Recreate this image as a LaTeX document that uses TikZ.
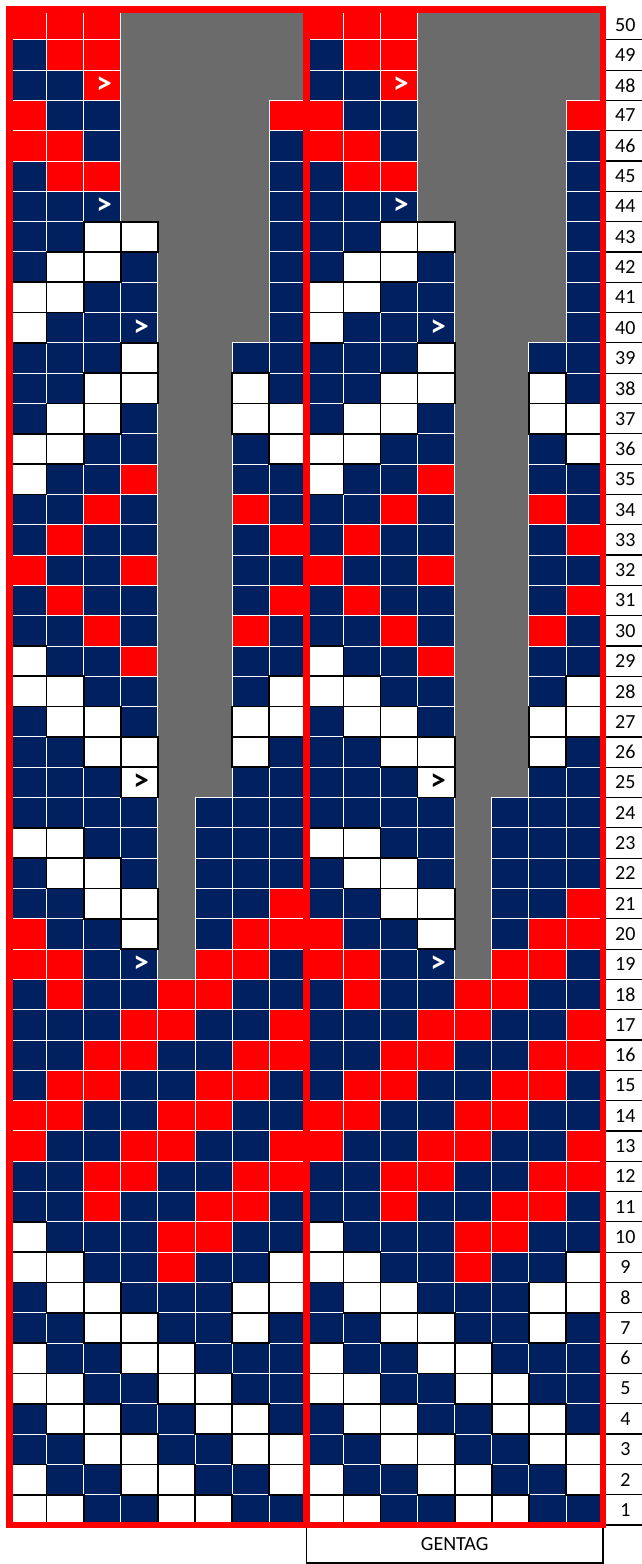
\documentclass[tikz,border=0pt]{standalone}
\usepackage{fontspec}
\setmainfont{Carlito}
\definecolor{cR}{HTML}{FF0000}
\definecolor{cN}{HTML}{002060}
\definecolor{cW}{HTML}{FFFFFF}
\definecolor{nostitch}{HTML}{6B6B6B}

\begin{document}
\begin{tikzpicture}[x=37.1pt, y=30.31pt, line join=miter,
    cellbox/.style={draw=white, line width=1pt},
    whitebox/.style={draw=black, line width=1.7pt},
    slipsym/.style={font=\fontsize{31}{31}\selectfont\bfseries},
    rownum/.style={font=\fontsize{20}{24}\selectfont}]
        \useasboundingbox (-9.5pt,-39pt) rectangle (631.5pt,1525pt);
        \def\chart{50/{R,R,R,G,G,G,G,G}, 49/{N,R,R,G,G,G,G,G}, 48/{N,N,R,G,G,G,G,G},
          47/{R,N,N,G,G,G,G,R}, 46/{R,R,N,G,G,G,G,N}, 45/{N,R,R,G,G,G,G,N},
          44/{N,N,N,G,G,G,G,N}, 43/{N,N,W,W,G,G,G,N}, 42/{N,W,W,N,G,G,G,N},
          41/{W,W,N,N,G,G,G,N}, 40/{W,N,N,N,G,G,G,N}, 39/{N,N,N,W,G,G,N,N},
          38/{N,N,W,W,G,G,W,N}, 37/{N,W,W,N,G,G,W,W}, 36/{W,W,N,N,G,G,N,W},
          35/{W,N,N,R,G,G,N,N}, 34/{N,N,R,N,G,G,R,N}, 33/{N,R,N,N,G,G,N,R},
          32/{R,N,N,R,G,G,N,N}, 31/{N,R,N,N,G,G,N,R}, 30/{N,N,R,N,G,G,R,N},
          29/{W,N,N,R,G,G,N,N}, 28/{W,W,N,N,G,G,N,W}, 27/{N,W,W,N,G,G,W,W},
          26/{N,N,W,W,G,G,W,N}, 25/{N,N,N,W,G,G,N,N}, 24/{N,N,N,N,G,N,N,N},
          23/{W,W,N,N,G,N,N,N}, 22/{N,W,W,N,G,N,N,N}, 21/{N,N,W,W,G,N,N,R},
          20/{R,N,N,W,G,N,R,R}, 19/{R,R,N,N,G,R,R,N}, 18/{N,R,N,N,R,R,N,N},
          17/{N,N,N,R,R,N,N,R}, 16/{N,N,R,R,N,N,R,R}, 15/{N,R,R,N,N,R,R,N},
          14/{R,R,N,N,R,R,N,N}, 13/{R,N,N,R,R,N,N,R}, 12/{N,N,R,R,N,N,R,R},
          11/{N,N,R,N,N,R,R,N}, 10/{W,N,N,N,R,R,N,N}, 9/{W,W,N,N,R,N,N,W},
          8/{N,W,W,N,N,N,W,W}, 7/{N,N,W,W,N,N,W,N}, 6/{W,N,N,W,W,N,N,N},
          5/{W,W,N,N,W,W,N,N}, 4/{N,W,W,N,N,W,W,N}, 3/{N,N,W,W,N,N,W,W},
          2/{W,N,N,W,W,N,N,W}, 1/{W,W,N,N,W,W,N,N}}
        % grey: no stitch
        \foreach \k in {0,8}
          \fill[nostitch] (\k+4,18) -- (\k+5,18) -- (\k+5,24) -- (\k+6,24) -- (\k+6,39) -- (\k+7,39)
            -- (\k+7,47) -- (\k+8,47) -- (\k+8,50) -- (\k+3,50) -- (\k+3,43) -- (\k+4,43) -- cycle;
        % coloured cells
        \foreach \k in {0,8} {
          \foreach \r/\cells in \chart {
            \foreach \c [count=\i] in \cells {
              \if\c G\else
                \filldraw[cellbox, fill=c\c] (\i-1+\k,\r-1) rectangle ++(1,1);
              \fi
            }
          }
        }
        % black edges on the white cells
        \foreach \k in {0,8} {
          \foreach \r/\cells in \chart {
            \foreach \c [count=\i] in \cells {
              \if\c W
                \draw[whitebox] (\i-1+\k,\r-1) rectangle ++(1,1);
              \fi
            }
          }
        }
        % slipped stitches
        \foreach \k in {0,8}
          \foreach \i/\r/\tc in {3/48/white, 3/44/white, 4/40/white, 4/25/black, 4/19/white}
            \node[slipsym, text=\tc] (s\k-\r) at (\i-0.45+\k,\r-0.5) {>};
        % row numbers
        \foreach \r in {1,...,50} {
          \node[rownum] (n\r) at (16.6,\r-0.5) {\r};
          \draw[line width=1.2pt] (16,\r-1) -- (17.1,\r-1);
        }
        \node[draw, line width=1.5pt, rownum, anchor=north, inner sep=0pt,
          minimum width=296.8pt, minimum height=37pt] (gentag) at (12,0) {GENTAG};
        % red frame round each repeat
        \draw[cR, line width=6.5pt] (0,0) rectangle (16,50) (8,0) -- (8,50);
\end{tikzpicture}
\end{document}
